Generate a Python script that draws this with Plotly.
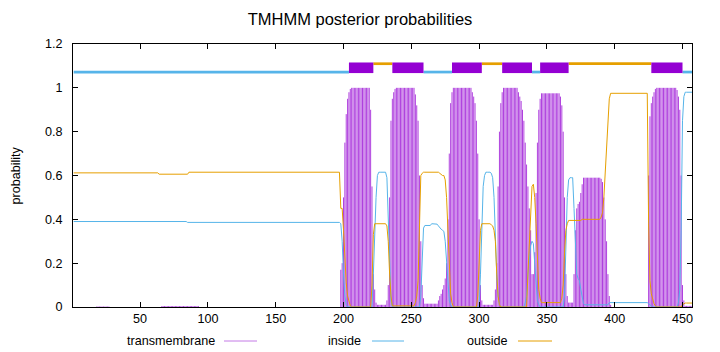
import plotly.graph_objects as go

# ---------------- data ----------------
N = 457
positions = list(range(1, N + 1))

tm_prob = ([0.0] * 17 + [0.002] * 10 + [0.0] * 38 + [0.004] * 28 + [0.0] * 104
           + [0.17, 0.2, 0.5, 0.75, 0.88, 0.95, 0.98, 0.995]
           + [1.0] * 14
           + [0.9, 0.55, 0.15, 0.08, 0.02]
           + [0.01] * 7
           + [0.03, 0.1, 0.5, 0.85, 0.95, 0.98, 0.995]
           + [1.0] * 14
           + [0.97, 0.92, 0.85, 0.6, 0.3, 0.1, 0.04]
           + [0.015] * 10
           + [0.03, 0.05, 0.06, 0.08, 0.1, 0.13, 0.2, 0.4, 0.7, 0.93, 0.98]
           + [1.0] * 14
           + [0.98, 0.96, 0.93, 0.85, 0.7, 0.4, 0.1, 0.03]
           + [0.01] * 8
           + [0.03, 0.08, 0.2, 0.55, 0.8, 0.93, 0.98]
           + [1.0] * 11
           + [0.98, 0.96, 0.94, 0.9, 0.85, 0.75, 0.65, 0.55, 0.45, 0.35, 0.15, 0.15, 0.25, 0.52, 0.75, 0.9, 0.95]
           + [0.975] * 14
           + [0.96, 0.92, 0.8, 0.5, 0.15, 0.05]
           + [0.02] * 4
           + [0.15, 0.35, 0.45, 0.47, 0.48, 0.52, 0.56, 0.59]
           + [0.59] * 12
           + [0.585, 0.57, 0.5, 0.4, 0.3, 0.15, 0.05, 0.01]
           + [0.0] * 27
           + [0.6, 0.87, 0.93, 0.96, 0.98, 0.995]
           + [1.0] * 15
           + [0.99, 0.96, 0.9, 0.6, 0.1, 0.03]
           + [0.005] * 6)

inside_prob = ([0.39] * 84 + [0.386] * 113
               + [0.38, 0.3, 0.15, 0.05, 0.01]
               + [0.0] * 19
               + [0.15, 0.35, 0.5, 0.6]
               + [0.615] * 6
               + [0.59, 0.4, 0.15, 0.03]
               + [0.0] * 21
               + [0.05, 0.2, 0.36]
               + [0.372] * 5
               + [0.38] * 4
               + [0.378, 0.37, 0.36, 0.355, 0.35, 0.345, 0.3, 0.2, 0.1, 0.03, 0.01]
               + [0.0] * 21
               + [0.15, 0.4, 0.55, 0.6]
               + [0.615] * 4
               + [0.61, 0.59, 0.5, 0.3, 0.15, 0.05, 0.01]
               + [0.0] * 18
               + [0.02, 0.05, 0.15, 0.22, 0.28, 0.3, 0.29, 0.2, 0.1, 0.03, 0.01]
               + [0.0] * 18
               + [0.05, 0.25, 0.5, 0.58]
               + [0.59] * 3
               + [0.45, 0.25, 0.15, 0.13, 0.12, 0.08, 0.04, 0.015]
               + [0.01] * 18
               + [0.02] * 29
               + [0.015, 0.01, 0.005]
               + [0.0] * 19
               + [0.02, 0.08, 0.35, 0.85, 0.96]
               + [0.98] * 6)

outside_prob = ([0.612] * 63 + [0.606] * 22 + [0.615] * 112
                + [0.45, 0.45, 0.35, 0.2, 0.11, 0.05, 0.02, 0.005]
                + [0.0] * 15
                + [0.1, 0.33, 0.38]
                + [0.38] * 8
                + [0.37, 0.3, 0.15, 0.05]
                + [0.005] * 17
                + [0.02, 0.05, 0.12, 0.35, 0.6, 0.61]
                + [0.615] * 12
                + [0.61, 0.605, 0.6, 0.6, 0.58, 0.5, 0.35, 0.2, 0.06, 0.02]
                + [0.0] * 18
                + [0.05, 0.2, 0.35, 0.38]
                + [0.38] * 6
                + [0.375, 0.37, 0.35, 0.3, 0.15, 0.05, 0.01]
                + [0.0] * 20
                + [0.15, 0.3, 0.42, 0.55, 0.56, 0.5, 0.38, 0.2, 0.08, 0.04]
                + [0.02] * 15
                + [0.04, 0.1, 0.25, 0.35, 0.38]
                + [0.395] * 10
                + [0.4] * 14
                + [0.41, 0.43, 0.5, 0.6, 0.7, 0.85, 0.95]
                + [0.975] * 28
                + [0.38, 0.12, 0.06, 0.03, 0.015, 0.005]
                + [0.0] * 19
                + [0.01, 0.015]
                + [0.018] * 6)

assert len(tm_prob) == N and len(inside_prob) == N and len(outside_prob) == N

# predicted topology: segment start positions and states (i=inside, o=outside, M=TM helix)
topo_starts = [1, 204, 222, 236, 259, 280, 302, 317, 339, 345, 366, 427, 450]
topo_states = ['i', 'M', 'o', 'M', 'i', 'M', 'o', 'M', 'i', 'M', 'o', 'M', 'i']

x_ticks = [50, 100, 150, 200, 250, 300, 350, 400, 450]
y_ticks = [0, 0.2, 0.4, 0.6, 0.8, 1.0, 1.2]
y_ticktext = ['0', '0.2', '0.4', '0.6', '0.8', '1', '1.2']

# ---------------- styling ----------------
C_TM = '#9400D3'
C_TM_KEY = '#c47ae6'
C_IN = '#56B4E9'
C_OUT = '#E69F00'
FONT = 'Liberation Sans, Arial, sans-serif'
FS = 12.6

L, R, T, B = 73, 28, 44, 45
W, H = 720, 352
PW, PH = W - L - R, H - T - B


def px_x(px):
    return (px - L) / PW


def px_y(py):
    return (H - B - py) / PH


fig = go.Figure()

# transmembrane probability drawn as impulses (gnuplot style)
imp_x, imp_y = [], []
for p, v in zip(positions, tm_prob):
    imp_x += [p, p, None]
    imp_y += [0, v, None]
fig.add_trace(go.Scatter(x=imp_x, y=imp_y, mode='lines',
                         line=dict(color=C_TM, width=0.75),
                         showlegend=False, hoverinfo='skip'))
fig.add_trace(go.Scatter(x=positions, y=inside_prob, mode='lines',
                         line=dict(color=C_IN, width=1), showlegend=False))
fig.add_trace(go.Scatter(x=positions, y=outside_prob, mode='lines',
                         line=dict(color=C_OUT, width=1), showlegend=False))

# topology bar at the top
topo_ends = [s for s in topo_starts[1:]] + [N + 1]
seg_style = {'i': (1.072, C_IN, 2.7), 'o': (1.11, C_OUT, 2.7), 'M': (1.0915, C_TM, 10.6)}
for state in ['i', 'o', 'M']:
    yv, col, lw = seg_style[state]
    xs, ys = [], []
    for s, e, st in zip(topo_starts, topo_ends, topo_states):
        if st == state:
            xs += [s, e, None]
            ys += [yv, yv, None]
    fig.add_trace(go.Scatter(x=xs, y=ys, mode='lines',
                             line=dict(color=col, width=lw),
                             showlegend=False, hoverinfo='skip'))

# gnuplot-style key below the plot
legend_items = [('transmembrane', C_TM_KEY, 217, 224, 257),
                ('inside', C_IN, 363, 372, 404),
                ('outside', C_OUT, 510, 518, 552)]
annotations = []
shapes = []
for name, col, tx, x0, x1 in legend_items:
    annotations.append(dict(text=name, xref='paper', yref='paper', x=px_x(tx), y=px_y(341),
                            xanchor='right', yanchor='middle', showarrow=False,
                            font=dict(family=FONT, size=FS, color='black')))
    shapes.append(dict(type='line', xref='paper', yref='paper', x0=px_x(x0), x1=px_x(x1),
                       y0=px_y(341), y1=px_y(341), line=dict(color=col, width=1)))

annotations.append(dict(text='probability', xref='paper', yref='paper', x=px_x(15), y=0.5,
                        textangle=-90, xanchor='center', yanchor='middle', showarrow=False,
                        font=dict(family=FONT, size=FS, color='black')))

fig.update_layout(
    width=W, height=H,
    margin=dict(l=L, r=R, t=T, b=B, pad=0),
    paper_bgcolor='white', plot_bgcolor='white',
    font=dict(family=FONT, size=FS, color='black'),
    title=dict(text='TMHMM posterior probabilities', x=0.5, xref='container',
               y=1 - 19 / H, yref='container', xanchor='center', yanchor='middle',
               font=dict(family=FONT, size=16.5, color='black')),
    annotations=annotations,
    shapes=shapes,
    xaxis=dict(range=[0.5, N], tickvals=x_ticks, ticks='inside', ticklen=5,
               tickcolor='black', showline=True, linecolor='black', linewidth=1,
               mirror='ticks', showgrid=False, zeroline=False),
    yaxis=dict(range=[0, 1.2], tickvals=y_ticks, ticktext=y_ticktext, ticks='inside',
               ticklen=5, tickcolor='black', showline=True, linecolor='black', linewidth=1,
               mirror='ticks', showgrid=False, zeroline=False, ticklabelstandoff=7),
)

fig.write_html('out.html')
